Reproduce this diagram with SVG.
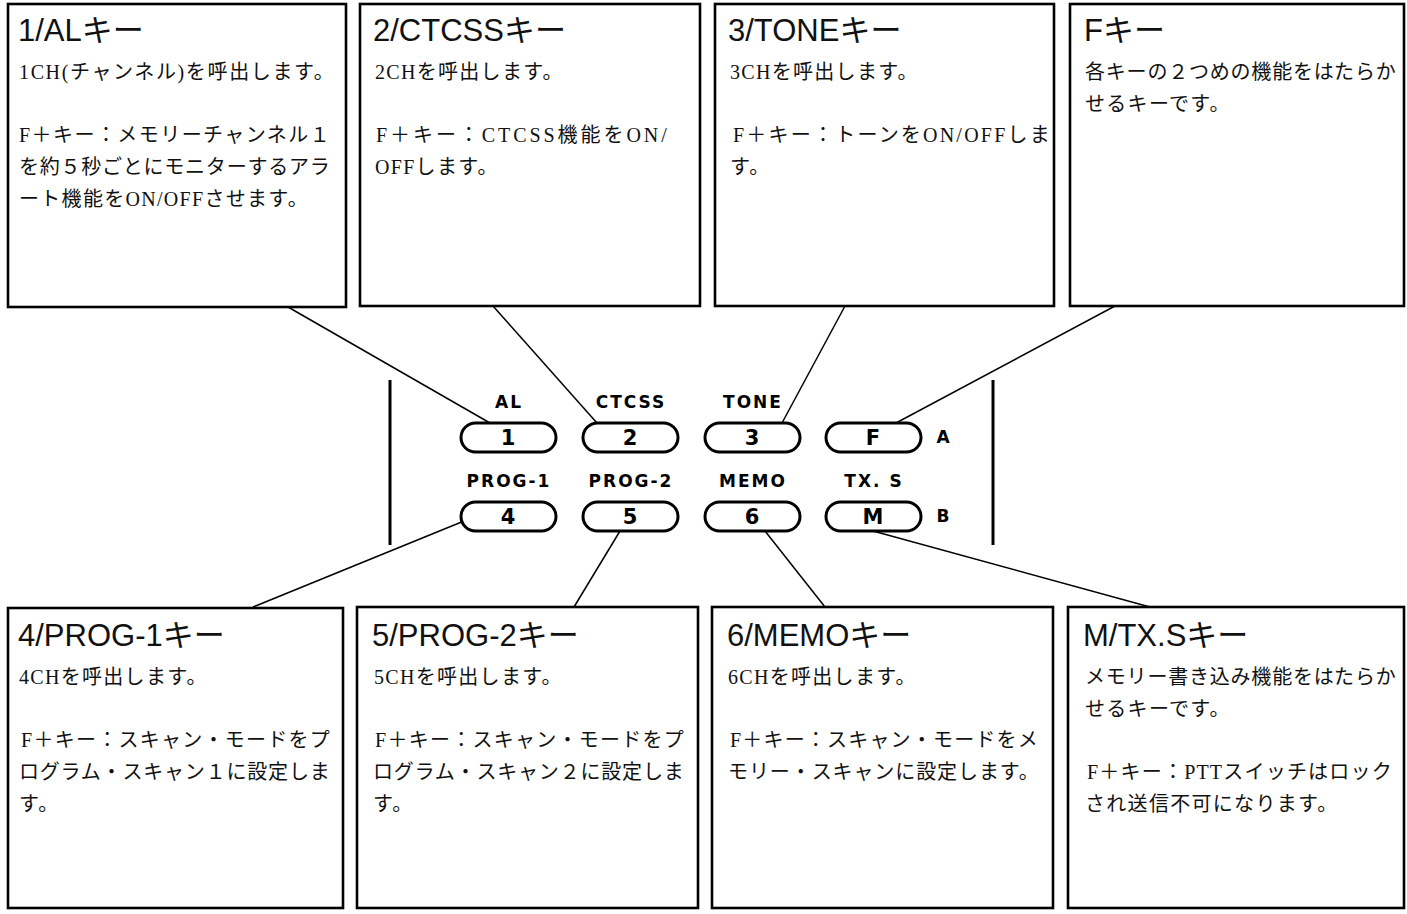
<svg xmlns="http://www.w3.org/2000/svg" width="1407" height="914" viewBox="0 0 1407 914">
<style>
.box{fill:#fff;stroke:#000;stroke-width:2.6}
.title{font-family:"Liberation Sans","Noto Sans CJK JP",sans-serif;font-size:31px;fill:#111}
.body{font-family:"Liberation Serif","Noto Sans CJK JP",serif;font-size:20px;letter-spacing:1.3px;fill:#111}
.key{fill:#fff;stroke:#000;stroke-width:3}
.klabel{font-family:"DejaVu Sans",sans-serif;font-weight:bold;font-size:17px;letter-spacing:2px;text-anchor:middle;fill:#000}
.kdigit{font-family:"DejaVu Sans",sans-serif;font-weight:bold;font-size:21px;text-anchor:middle;fill:#000}
.conn{stroke:#000;stroke-width:1.5;fill:none}
.bar{stroke:#000;stroke-width:3}
</style>
<rect width="1407" height="914" fill="#fff"/>

<g id="connectors">
<line class="conn" x1="288" y1="307" x2="490" y2="423"/>
<line class="conn" x1="493" y1="306" x2="597" y2="423"/>
<line class="conn" x1="845" y1="306" x2="782" y2="423"/>
<line class="conn" x1="1115" y1="306" x2="896" y2="423"/>
<line class="conn" x1="464" y1="521" x2="253" y2="607"/>
<line class="conn" x1="620" y1="531" x2="574" y2="607"/>
<line class="conn" x1="765" y1="531" x2="825" y2="607"/>
<line class="conn" x1="873" y1="531" x2="1150" y2="607"/>
</g>

<g id="box-1">
<rect class="box" x="8" y="4" width="338" height="303"/>
<text class="title" x="18" y="41">1/ALキー</text>
<text class="body" x="19" y="79" textLength="316" lengthAdjust="spacing">1CH(チャンネル)を呼出します。</text>
<text class="body" x="19" y="142" textLength="312" lengthAdjust="spacing">F＋キー：メモリーチャンネル１</text>
<text class="body" x="19" y="174" textLength="312" lengthAdjust="spacing">を約５秒ごとにモニターするアラ</text>
<text class="body" x="19" y="206">ート機能をON/OFFさせます。</text>
</g>

<g id="box-2">
<rect class="box" x="360" y="4" width="340" height="302"/>
<text class="title" x="373" y="41">2/CTCSSキー</text>
<text class="body" x="375" y="79">2CHを呼出します。</text>
<text class="body" x="376" y="142" textLength="292" lengthAdjust="spacing">F＋キー：CTCSS機能をON/</text>
<text class="body" x="375" y="174">OFFします。</text>
</g>

<g id="box-3">
<rect class="box" x="715" y="4" width="339" height="302"/>
<text class="title" x="728" y="41">3/TONEキー</text>
<text class="body" x="730" y="79">3CHを呼出します。</text>
<text class="body" x="733" y="142" textLength="318" lengthAdjust="spacing">F＋キー：トーンをON/OFFしま</text>
<text class="body" x="730" y="174">す。</text>
</g>

<g id="box-f">
<rect class="box" x="1070" y="4" width="334" height="302"/>
<text class="title" x="1084" y="41">Fキー</text>
<text class="body" x="1085" y="79" textLength="312" lengthAdjust="spacing">各キーの２つめの機能をはたらか</text>
<text class="body" x="1085" y="111">せるキーです。</text>
</g>

<g id="box-4">
<rect class="box" x="8" y="608" width="335" height="300"/>
<text class="title" x="18" y="646">4/PROG-1キー</text>
<text class="body" x="19" y="684">4CHを呼出します。</text>
<text class="body" x="21" y="747" textLength="310" lengthAdjust="spacing">F＋キー：スキャン・モードをプ</text>
<text class="body" x="19" y="779" textLength="312" lengthAdjust="spacing">ログラム・スキャン１に設定しま</text>
<text class="body" x="19" y="811">す。</text>
</g>

<g id="box-5">
<rect class="box" x="357" y="607" width="341" height="301"/>
<text class="title" x="372" y="646">5/PROG-2キー</text>
<text class="body" x="374" y="684">5CHを呼出します。</text>
<text class="body" x="375" y="747" textLength="310" lengthAdjust="spacing">F＋キー：スキャン・モードをプ</text>
<text class="body" x="373" y="779" textLength="312" lengthAdjust="spacing">ログラム・スキャン２に設定しま</text>
<text class="body" x="373" y="811">す。</text>
</g>

<g id="box-6">
<rect class="box" x="712" y="607" width="341" height="301"/>
<text class="title" x="727" y="646">6/MEMOキー</text>
<text class="body" x="728" y="684">6CHを呼出します。</text>
<text class="body" x="730" y="747" textLength="309" lengthAdjust="spacing">F＋キー：スキャン・モードをメ</text>
<text class="body" x="728" y="779" textLength="312" lengthAdjust="spacing">モリー・スキャンに設定します。</text>
</g>

<g id="box-m">
<rect class="box" x="1068" y="607" width="336" height="301"/>
<text class="title" x="1083" y="646">M/TX.Sキー</text>
<text class="body" x="1085" y="684" textLength="312" lengthAdjust="spacing">メモリー書き込み機能をはたらか</text>
<text class="body" x="1085" y="716">せるキーです。</text>
<text class="body" x="1087" y="779" textLength="306" lengthAdjust="spacing">F＋キー：PTTスイッチはロック</text>
<text class="body" x="1085" y="811">され送信不可になります。</text>
</g>

<g id="keypad-frame">
<line class="bar" x1="390" y1="380" x2="390" y2="545"/>
<line class="bar" x1="993" y1="380" x2="993" y2="545"/>
<text class="klabel" x="943" y="443" style="letter-spacing:0">A</text>
<text class="klabel" x="943" y="522" style="letter-spacing:0">B</text>
</g>

<g id="key-1">
<text class="klabel" x="509" y="408">AL</text>
<rect class="key" x="461" y="423" width="95" height="29" rx="14.5"/>
<text class="kdigit" x="508" y="445">1</text>
</g>
<g id="key-2">
<text class="klabel" x="631" y="408">CTCSS</text>
<rect class="key" x="583" y="423" width="95" height="29" rx="14.5"/>
<text class="kdigit" x="630" y="445">2</text>
</g>
<g id="key-3">
<text class="klabel" x="753" y="408">TONE</text>
<rect class="key" x="705" y="423" width="95" height="29" rx="14.5"/>
<text class="kdigit" x="752" y="445">3</text>
</g>
<g id="key-f">
<rect class="key" x="826" y="423" width="95" height="29" rx="14.5"/>
<text class="kdigit" x="873" y="445">F</text>
</g>
<g id="key-4">
<text class="klabel" x="509" y="487">PROG-1</text>
<rect class="key" x="461" y="502" width="95" height="29" rx="14.5"/>
<text class="kdigit" x="508" y="524">4</text>
</g>
<g id="key-5">
<text class="klabel" x="631" y="487">PROG-2</text>
<rect class="key" x="583" y="502" width="95" height="29" rx="14.5"/>
<text class="kdigit" x="630" y="524">5</text>
</g>
<g id="key-6">
<text class="klabel" x="753" y="487">MEMO</text>
<rect class="key" x="705" y="502" width="95" height="29" rx="14.5"/>
<text class="kdigit" x="752" y="524">6</text>
</g>
<g id="key-m">
<text class="klabel" x="874" y="487">TX. S</text>
<rect class="key" x="826" y="502" width="95" height="29" rx="14.5"/>
<text class="kdigit" x="873" y="524">M</text>
</g>
</svg>
